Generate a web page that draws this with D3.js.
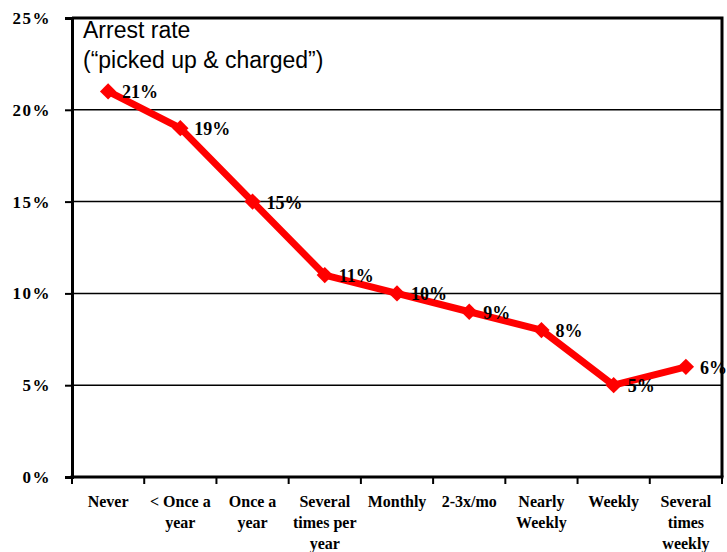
<!DOCTYPE html>
<html>
<head>
<meta charset="utf-8">
<script src="https://cdn.jsdelivr.net/npm/d3@7"></script>
<style>
  body { margin: 0; background: #fff; }
  svg { display: block; }
</style>
</head>
<body>
<div id="chart"></div>
<script>
const width = 727;
const height = 552;

// Data
const categories = ["Never", "< Once a|year", "Once a|year", "Several|times per|year", "Monthly",
                    "2-3x/mo", "Nearly|Weekly", "Weekly", "Several|times|weekly"];
const arrestRate = [21, 19, 15, 11, 10, 9, 8, 5, 6];
const yTicks = [0, 5, 10, 15, 20, 25];
const titleLines = ["Arrest rate", "(\u201cpicked up & charged\u201d)"];

const margin = { top: 18, right: 5, bottom: 75, left: 72 };

const svg = d3.select("#chart").append("svg")
    .attr("width", width)
    .attr("height", height);

const x = d3.scaleBand()
    .domain(categories)
    .range([margin.left, width - margin.right])
    .paddingInner(0)
    .paddingOuter(0);

const y = d3.scaleLinear()
    .domain([0, 25])
    .range([height - margin.bottom, margin.top]);

const cx = d => x(d) + x.bandwidth() / 2;

// gridlines
svg.append("g")
    .selectAll("line")
    .data(yTicks.filter(t => t > 0 && t < 25))
    .join("line")
    .attr("x1", margin.left)
    .attr("x2", width - margin.right)
    .attr("y1", d => y(d))
    .attr("y2", d => y(d))
    .attr("stroke", "#000")
    .attr("stroke-width", 1.5);

// frame: top and right
svg.append("path")
    .attr("d", `M${margin.left},${y(25)}H${width - margin.right}V${y(0)}`)
    .attr("fill", "none")
    .attr("stroke", "#000")
    .attr("stroke-width", 3);

// y axis
const yAxis = svg.append("g")
    .attr("transform", `translate(${margin.left},0)`)
    .call(d3.axisLeft(y).tickValues(yTicks).tickSize(7).tickFormat(d => d + "%").tickPadding(14));
yAxis.select(".domain").attr("stroke-width", 3);
yAxis.selectAll(".tick line").attr("stroke-width", 2);
yAxis.selectAll(".tick text")
    .attr("font-family", "'Liberation Serif', 'Times New Roman', serif")
    .attr("font-weight", "bold")
    .attr("font-size", 17)
    .attr("letter-spacing", 1.5)
    .attr("fill", "#000");

// x axis: ticks at category boundaries
const xAxis = svg.append("g");
xAxis.append("line")
    .attr("x1", margin.left - 1.5)
    .attr("x2", width - margin.right + 1.5)
    .attr("y1", y(0))
    .attr("y2", y(0))
    .attr("stroke", "#000")
    .attr("stroke-width", 3);
xAxis.selectAll(".xtick")
    .data(categories.map(d => x(d)).concat([width - margin.right]))
    .join("line")
    .attr("class", "xtick")
    .attr("x1", d => d)
    .attr("x2", d => d)
    .attr("y1", y(0))
    .attr("y2", y(0) + 7)
    .attr("stroke", "#000")
    .attr("stroke-width", 2);

const xLabels = xAxis.selectAll(".xlabel")
    .data(categories)
    .join("text")
    .attr("class", "xlabel")
    .attr("x", d => cx(d))
    .attr("y", y(0) + 30)
    .attr("text-anchor", "middle")
    .attr("font-family", "'Liberation Serif', 'Times New Roman', serif")
    .attr("font-weight", "bold")
    .attr("font-size", 16)
    .attr("fill", "#000");
xLabels.selectAll("tspan")
    .data(d => d.split("|").map(s => ({ s, c: d })))
    .join("tspan")
    .attr("x", d => cx(d.c))
    .attr("dy", (d, i) => i === 0 ? 0 : 21)
    .text(d => d.s);

// title inside the plot
svg.append("g")
    .selectAll("text")
    .data(titleLines)
    .join("text")
    .attr("x", margin.left + 11)
    .attr("y", (d, i) => 38 + i * 30)
    .attr("font-family", "'Liberation Sans', Arial, sans-serif")
    .attr("font-size", 23)
    .attr("fill", "#000")
    .text(d => d);

// series line
const line = d3.line()
    .x((d, i) => cx(categories[i]))
    .y(d => y(d));

svg.append("path")
    .datum(arrestRate)
    .attr("d", line)
    .attr("fill", "none")
    .attr("stroke", "#ff0000")
    .attr("stroke-width", 7)
    .attr("stroke-linejoin", "round");

// diamond markers
svg.append("g")
    .selectAll("path")
    .data(arrestRate)
    .join("path")
    .attr("transform", (d, i) => `translate(${cx(categories[i])},${y(d)})`)
    .attr("d", d3.symbol(d3.symbolDiamond2, 170))
    .attr("fill", "#ff0000");

// data labels
svg.append("g")
    .selectAll("text")
    .data(arrestRate)
    .join("text")
    .attr("x", (d, i) => cx(categories[i]) + 14)
    .attr("y", d => y(d) + 7)
    .attr("font-family", "'Liberation Serif', 'Times New Roman', serif")
    .attr("font-weight", "bold")
    .attr("font-size", 18)
    .attr("fill", "#000")
    .text(d => d + "%");
</script>
</body>
</html>
